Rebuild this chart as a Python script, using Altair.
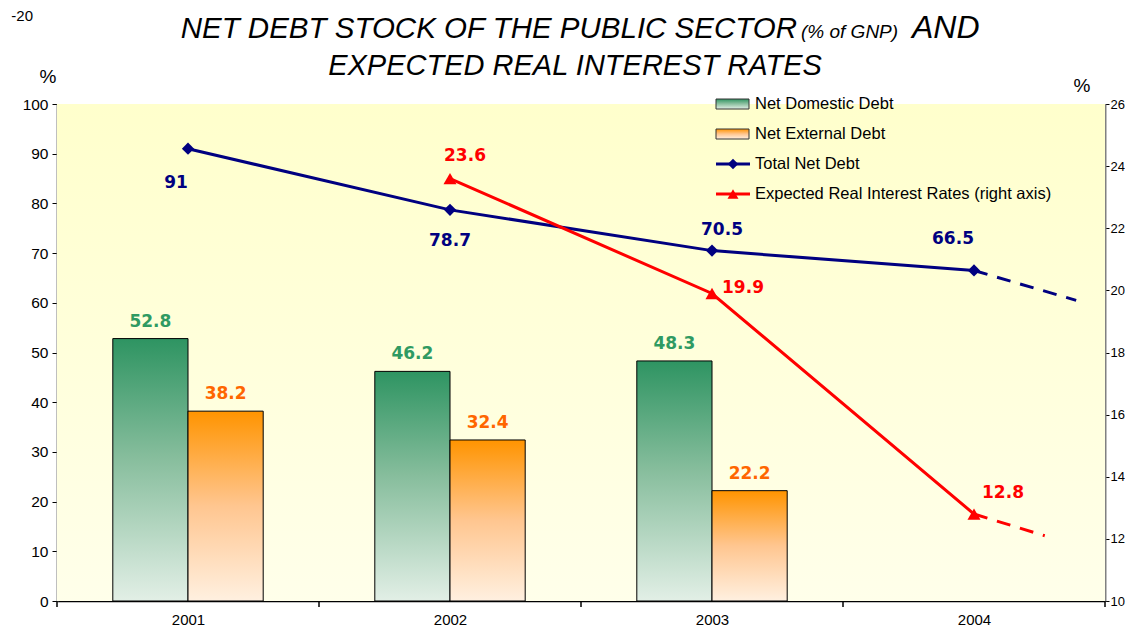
import altair as alt
import pandas as pd

# ---------------- data ----------------
years = [2001, 2002, 2003, 2004]
bar_years = [2001, 2002, 2003]
domestic = [52.8, 46.2, 48.3]
external = [38.2, 32.4, 22.2]
total = [91, 78.7, 70.5, 66.5]
total_proj_years = [2004, 2004.39]
total_proj = [66.5, 60.5]
rate_years = [2002, 2003, 2004]
rates = [23.6, 19.9, 12.8]
rate_proj_years = [2004, 2004.27]
rate_proj = [12.8, 12.1]
boundaries = [2000.5, 2001.5, 2002.5, 2003.5, 2004.5]
left_ticks = list(range(0, 101, 10))
right_ticks = list(range(10, 27, 2))
legend_labels = ["Net Domestic Debt", "Net External Debt", "Total Net Debt",
                 "Expected Real Interest Rates (right axis)"]

# ---------------- styling ----------------
W, H = 1048, 497
HALF = 0.287
FONT = "Liberation Sans"
LBL_FONT = "DejaVu Sans"
NAVY = "#000080"
RED = "#ff0000"
GREEN_T = "#2f9a62"
ORANGE_T = "#ff6600"

green_grad = alt.Gradient(gradient="linear", x1=0, x2=0, y1=0, y2=1,
                          stops=[alt.GradientStop(color="#2e9462", offset=0),
                                 alt.GradientStop(color="#86bd9c", offset=0.45),
                                 alt.GradientStop(color="#e2efe6", offset=1)])
orange_grad = alt.Gradient(gradient="linear", x1=0, x2=0, y1=0, y2=1,
                           stops=[alt.GradientStop(color="#ff9400", offset=0),
                                  alt.GradientStop(color="#ffc690", offset=0.5),
                                  alt.GradientStop(color="#fff0e0", offset=1)])
bg_grad = alt.Gradient(gradient="linear", x1=0, x2=0, y1=0, y2=1,
                       stops=[alt.GradientStop(color="#ffffcc", offset=0),
                              alt.GradientStop(color="#ffffea", offset=1)])

xscale = alt.Scale(domain=[2000.5, 2004.5], nice=False, zero=False)
xaxis = alt.Axis(values=years, format="d", ticks=False, tickSize=0, domainColor="black",
                 domainWidth=1.5, labelFontSize=15, labelPadding=11, grid=False, title=None,
                 labelColor="black", labelFont=FONT)
yl_scale = alt.Scale(domain=[0, 100], nice=False)
yl_axis = alt.Axis(values=left_ticks, tickSize=5, tickColor="black", domainColor="#808080",
                   domainWidth=2, labelFontSize=15.5, labelFont=FONT, labelColor="black",
                   labelPadding=4, grid=False, title=None)
yr_scale = alt.Scale(domain=[10, 26], nice=False, zero=False)
yr_axis = alt.Axis(values=right_ticks, orient="right", tickSize=4, tickColor="black",
                   domainColor="#808080", domainWidth=2, labelFontSize=13, labelFont=FONT,
                   labelColor="black", labelPadding=1, grid=False, title=None)

one = pd.DataFrame({"a": [0]})

# ---------------- left layers ----------------
bg = alt.Chart(one).mark_rect(fill=bg_grad).encode(
    x=alt.value(0), x2=alt.value(W), y=alt.value(0), y2=alt.value(H))

bars_df = pd.DataFrame({"year": bar_years, "domestic": domestic, "external": external})
bars_df["d0"] = bars_df["year"] - HALF
bars_df["e1"] = bars_df["year"] + HALF
bars_df["dmid"] = bars_df["year"] - HALF / 2
bars_df["emid"] = bars_df["year"] + HALF / 2

dom = alt.Chart(bars_df).mark_bar(fill=green_grad, stroke="black", strokeWidth=1).encode(
    x=alt.X("d0:Q", scale=xscale, axis=xaxis), x2="year:Q",
    y=alt.Y("domestic:Q", scale=yl_scale, axis=yl_axis), y2=alt.datum(0))
ext = alt.Chart(bars_df).mark_bar(fill=orange_grad, stroke="black", strokeWidth=1).encode(
    x=alt.X("year:Q", scale=xscale, axis=xaxis), x2="e1:Q",
    y=alt.Y("external:Q", scale=yl_scale, axis=yl_axis), y2=alt.datum(0))

dom_lbl = alt.Chart(bars_df).mark_text(font=LBL_FONT, fontSize=17, fontWeight="bold",
                                       color=GREEN_T, baseline="bottom", dy=-8).encode(
    x=alt.X("dmid:Q", scale=xscale, axis=xaxis),
    y=alt.Y("domestic:Q", scale=yl_scale, axis=yl_axis),
    text=alt.Text("domestic:Q", format=".1f"))
ext_lbl = alt.Chart(bars_df).mark_text(font=LBL_FONT, fontSize=17, fontWeight="bold",
                                       color=ORANGE_T, baseline="bottom", dy=-8).encode(
    x=alt.X("emid:Q", scale=xscale, axis=xaxis),
    y=alt.Y("external:Q", scale=yl_scale, axis=yl_axis),
    text=alt.Text("external:Q", format=".1f"))

tot_df = pd.DataFrame({"year": years, "v": total})
tot_proj_df = pd.DataFrame({"year": total_proj_years, "v": total_proj})
tot_line = alt.Chart(tot_df).mark_line(color=NAVY, strokeWidth=3).encode(
    x=alt.X("year:Q", scale=xscale, axis=xaxis),
    y=alt.Y("v:Q", scale=yl_scale, axis=yl_axis))
tot_dash = alt.Chart(tot_proj_df).mark_line(color=NAVY, strokeWidth=3, strokeDash=[14, 10]).encode(
    x=alt.X("year:Q", scale=xscale, axis=xaxis),
    y=alt.Y("v:Q", scale=yl_scale, axis=yl_axis))
tot_pts = alt.Chart(tot_df).mark_point(shape="diamond", filled=True, size=150, color=NAVY,
                                       opacity=1).encode(
    x=alt.X("year:Q", scale=xscale, axis=xaxis),
    y=alt.Y("v:Q", scale=yl_scale, axis=yl_axis))

tot_offsets = [(-12, 34), (0, 31), (10, -21), (-21, -31)]
tot_lbls = []
for i, (dx, dy) in enumerate(tot_offsets):
    tot_lbls.append(
        alt.Chart(tot_df.iloc[[i]]).mark_text(font=LBL_FONT, fontSize=17, fontWeight="bold",
                                               color=NAVY, dx=dx, dy=dy).encode(
            x=alt.X("year:Q", scale=xscale, axis=xaxis),
            y=alt.Y("v:Q", scale=yl_scale, axis=yl_axis),
            text=alt.Text("v:Q", format="")))

tick_df = pd.DataFrame({"b": boundaries})
xticks = alt.Chart(tick_df).mark_rule(color="black", strokeWidth=1.5).encode(
    x=alt.X("b:Q", scale=xscale, axis=xaxis), y=alt.value(H), y2=alt.value(H + 6))

left = alt.layer(bg, dom, ext, dom_lbl, ext_lbl, tot_line, tot_dash, tot_pts, *tot_lbls, xticks)

# ---------------- right layers ----------------
rate_df = pd.DataFrame({"year": rate_years, "r": rates})
rate_proj_df = pd.DataFrame({"year": rate_proj_years, "r": rate_proj})
rate_line = alt.Chart(rate_df).mark_line(color=RED, strokeWidth=3).encode(
    x=alt.X("year:Q", scale=xscale, axis=xaxis),
    y=alt.Y("r:Q", scale=yr_scale, axis=yr_axis))
rate_dash = alt.Chart(rate_proj_df).mark_line(color=RED, strokeWidth=3, strokeDash=[14, 10]).encode(
    x=alt.X("year:Q", scale=xscale, axis=xaxis),
    y=alt.Y("r:Q", scale=yr_scale, axis=yr_axis))
rate_pts = alt.Chart(rate_df).mark_point(shape="triangle-up", filled=True, size=170, color=RED,
                                         opacity=1).encode(
    x=alt.X("year:Q", scale=xscale, axis=xaxis),
    y=alt.Y("r:Q", scale=yr_scale, axis=yr_axis))
rate_offsets = [(15, -23), (31, -5), (29, -21)]
rate_lbls = []
for i, (dx, dy) in enumerate(rate_offsets):
    rate_lbls.append(
        alt.Chart(rate_df.iloc[[i]]).mark_text(font=LBL_FONT, fontSize=17, fontWeight="bold",
                                                color=RED, dx=dx, dy=dy).encode(
            x=alt.X("year:Q", scale=xscale, axis=xaxis),
            y=alt.Y("r:Q", scale=yr_scale, axis=yr_axis),
            text=alt.Text("r:Q", format=".1f")))

right = alt.layer(rate_line, rate_dash, rate_pts, *rate_lbls)

# ---------------- legend & titles (decorations) ----------------
LX, LT = 659, 698
ROWS = [0, 30, 60, 90]

def txt(text, x, y, size, align="left", style="normal", color="black", weight="normal",
        font=FONT, baseline="middle"):
    return alt.Chart(one).mark_text(text=text, fontSize=size, align=align, font=font,
                                    fontStyle=style, color=color, fontWeight=weight,
                                    baseline=baseline).encode(
        x=alt.value(x), y=alt.value(y))

deco = []
deco.append(alt.Chart(one).mark_rect(fill=green_grad, stroke="#333333", strokeWidth=1).encode(
    x=alt.value(LX), x2=alt.value(LX + 33), y=alt.value(ROWS[0] - 5), y2=alt.value(ROWS[0] + 5)))
deco.append(alt.Chart(one).mark_rect(fill=orange_grad, stroke="#333333", strokeWidth=1).encode(
    x=alt.value(LX), x2=alt.value(LX + 33), y=alt.value(ROWS[1] - 5), y2=alt.value(ROWS[1] + 5)))
deco.append(alt.Chart(one).mark_rule(color=NAVY, strokeWidth=3).encode(
    x=alt.value(LX), x2=alt.value(LX + 34), y=alt.value(ROWS[2])))
deco.append(alt.Chart(one).mark_point(shape="diamond", filled=True, size=110, color=NAVY,
                                      opacity=1).encode(x=alt.value(LX + 17), y=alt.value(ROWS[2])))
deco.append(alt.Chart(one).mark_rule(color=RED, strokeWidth=3).encode(
    x=alt.value(LX), x2=alt.value(LX + 34), y=alt.value(ROWS[3])))
deco.append(alt.Chart(one).mark_point(shape="triangle-up", filled=True, size=120, color=RED,
                                      opacity=1).encode(x=alt.value(LX + 17), y=alt.value(ROWS[3])))
for lab, ry in zip(legend_labels, ROWS):
    deco.append(txt(lab, LT, ry, 16.5))

# title
deco.append(txt("NET DEBT STOCK OF THE PUBLIC SECTOR", 740, -66, 29.5, align="right",
                style="italic", baseline="alphabetic"))
deco.append(txt("(% of GNP)", 744, -66, 19, align="left", style="italic", baseline="alphabetic"))
deco.append(txt("AND", 855, -66, 32, align="left", style="italic", baseline="alphabetic"))
deco.append(txt("EXPECTED REAL INTEREST RATES", 518, -29, 29, align="center", style="italic",
                baseline="alphabetic"))
# axis unit labels
deco.append(txt("%", -9, -27, 19, align="center"))
deco.append(txt("%", 1025, -18, 19, align="center"))
deco.append(txt("-20", -24, -88, 15, align="right"))

decor = alt.layer(*deco)

chart = alt.layer(left, right, decor).resolve_scale(y="independent").properties(
    width=W, height=H,
    autosize=alt.AutoSizeParams(type="none"),
    padding={"left": 49, "top": 96, "right": 20, "bottom": 29},
).configure_view(stroke=None)

chart.save("out.html", embed_options={"renderer": "svg", "actions": False})
